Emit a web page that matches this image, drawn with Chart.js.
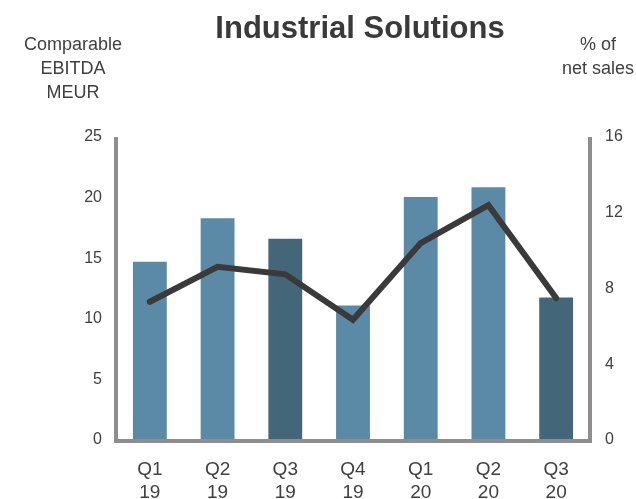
<!DOCTYPE html>
<html>
<head>
<meta charset="utf-8">
<script src="https://cdn.jsdelivr.net/npm/chart.js@4/dist/chart.umd.min.js"></script>
<style>
  body { margin: 0; background: #fff; }
  #wrap { position: relative; width: 636px; height: 499px; font-family: "Liberation Sans", Arial, sans-serif; color: #404040; }
  #chart { position: absolute; left: 0; top: 0; }
  .lbl { position: absolute; text-align: center; font-size: 18px; line-height: 24px; }
  #title { position: absolute; left: 160px; width: 400px; top: 10px; text-align: center; font-size: 31px; font-weight: bold; color: #3a3a3a; }
</style>
</head>
<body>
<div id="wrap">
  <canvas id="chart" width="636" height="499"></canvas>
  <div id="title">Industrial Solutions</div>
  <div class="lbl" style="left:0px; width:146px; top:32px;">Comparable<br>EBITDA<br>MEUR</div>
  <div class="lbl" style="left:560px; width:76px; top:32px;">% of<br>net sales</div>
</div>
<script>
let quarters = [['Q1', '19'], ['Q2', '19'], ['Q3', '19'], ['Q4', '19'], ['Q1', '20'], ['Q2', '20'], ['Q3', '20']];
let ebitda = [14.7, 18.3, 16.6, 11.1, 20.05, 20.85, 11.75];
let margin = [7.3, 9.15, 8.75, 6.35, 10.4, 12.4, 7.5];
let highlight = [false, false, true, false, false, false, true];

let lightBar = '#5a8aa5';
let darkBar = '#436779';
let axisGray = '#8e8e8e';

// draw the thick grey axis frame (left, bottom, right)
let axisFrame = {
    id: 'axisFrame',
    afterDatasetsDraw(chart) {
        let a = chart.chartArea;
        let ctx = chart.ctx;
        ctx.save();
        ctx.strokeStyle = axisGray;
        ctx.lineWidth = 4;
        ctx.lineCap = 'butt';
        ctx.beginPath();
        ctx.moveTo(a.left, a.top);
        ctx.lineTo(a.left, a.bottom + 2);
        ctx.moveTo(a.left - 2, a.bottom + 1);
        ctx.lineTo(a.right + 2, a.bottom + 1);
        ctx.moveTo(a.right, a.top);
        ctx.lineTo(a.right, a.bottom + 2);
        ctx.stroke();
        ctx.restore();
    }
};

let font = { family: '"Liberation Sans", Arial, sans-serif' };

let chart = new Chart(document.getElementById('chart').getContext('2d'), {
    type: 'bar',
    data: {
        labels: quarters,
        datasets: [{
            type: 'line',
            data: margin,
            yAxisID: 'y1',
            borderColor: '#3a3a3a',
            borderWidth: 6,
            pointRadius: 0,
            tension: 0,
            borderCapStyle: 'round',
            order: 0
        }, {
            type: 'bar',
            data: ebitda,
            yAxisID: 'y',
            backgroundColor: highlight.map(h => h ? darkBar : lightBar),
            barPercentage: 0.5,
            categoryPercentage: 1,
            order: 1
        }]
    },
    options: {
        responsive: false,
        animation: { duration: 0 },
        layout: { padding: { top: 137, left: 0, right: 0, bottom: 0 } },
        plugins: { legend: { display: false }, tooltip: { enabled: false } },
        scales: {
            x: {
                grid: { display: false },
                border: { display: false },
                ticks: { color: '#404040', padding: 10, font: { ...font, size: 19, lineHeight: 1.22 }, maxRotation: 0 },
                afterFit: s => { s.height = 59; }
            },
            y: {
                position: 'left',
                min: 0, max: 25,
                grid: { display: false },
                border: { display: false },
                ticks: { stepSize: 5, color: '#404040', padding: 6, font: { ...font, size: 16 } },
                afterFit: s => { s.width = 116; }
            },
            y1: {
                position: 'right',
                min: 0, max: 16,
                grid: { display: false },
                border: { display: false },
                ticks: { stepSize: 4, color: '#404040', padding: 7, font: { ...font, size: 16 } },
                afterFit: s => { s.width = 46; }
            }
        }
    },
    plugins: [axisFrame]
});
</script>
</body>
</html>
